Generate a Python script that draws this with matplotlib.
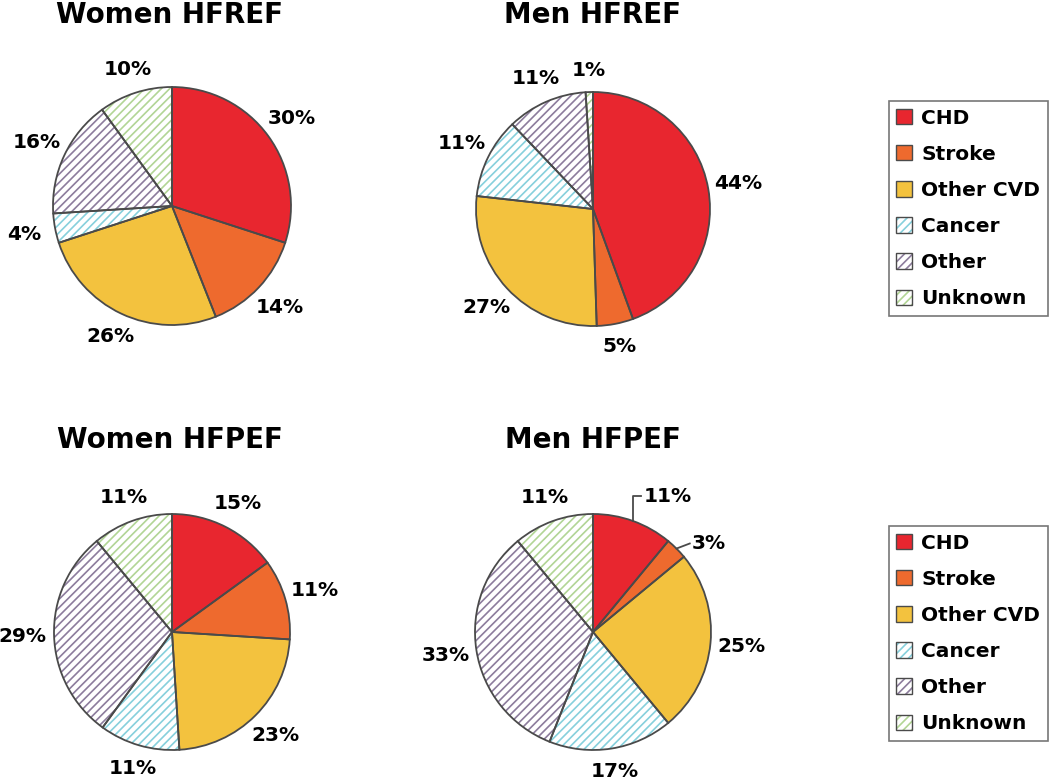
import matplotlib
matplotlib.use('Agg')
import matplotlib.pyplot as plt
from matplotlib.patches import Patch
import numpy as np

plt.rcParams['font.family'] = ['DejaVu Sans']
plt.rcParams['hatch.linewidth'] = 1.2

causes = ['CHD', 'Stroke', 'Other CVD', 'Cancer', 'Other', 'Unknown']
women_hfref = [30, 14, 26, 4, 16, 10]
men_hfref = [44, 5, 27, 11, 11, 1]
women_hfpef = [15, 11, 23, 11, 29, 11]
men_hfpef = [11, 3, 25, 17, 33, 11]

fills = ['#E8262F', '#EE6A2E', '#F3C23E', 'white', 'white', 'white']
hatch_cols = [None, None, None, '#86D0DC', '#8C7C9C', '#B2D595']
edge = '#4A4A4A'

W, H = 1050, 780
fig = plt.figure(figsize=(W / 100, H / 100), dpi=100)


def pie_axes(cx, cy, r):
    # square axes in pixel terms, radius 1 -> r px
    half = r * 1.3
    return fig.add_axes([(cx - half) / W, (H - cy - half) / H, 2 * half / W, 2 * half / H])


def draw_pie(ax, values, leaders=None):
    leaders = leaders or {}
    wedges, _ = ax.pie(values, colors=fills, startangle=90, counterclock=False,
                       wedgeprops=dict(linewidth=0))
    for w, hc in zip(wedges, hatch_cols):
        if hc:
            w.set_edgecolor(hc)
            w.set_hatch('////')
    ax.pie(values, startangle=90, counterclock=False,
           wedgeprops=dict(fill=False, edgecolor=edge, linewidth=1.3))
    ax.set_xlim(-1.3, 1.3)
    ax.set_ylim(-1.3, 1.3)
    ax.set_aspect('equal')
    ax.axis('off')
    for i, w in enumerate(wedges):
        ang = np.deg2rad((w.theta1 + w.theta2) / 2)
        txt = '%d%%' % values[i]
        if i in leaders:
            tx, ty, elbow = leaders[i]
            ex, ey = np.cos(ang), np.sin(ang)
            if elbow:
                xs, ys = [ex, ex, tx - 0.02], [ey, ty, ty]
            else:
                xs, ys = [ex, tx - 0.02], [ey, ty]
            ax.plot(xs, ys, color=edge, lw=1.3, clip_on=False)
            ax.text(tx, ty, txt, ha='left', va='center', fontsize=14.5, fontweight='bold')
        else:
            # wide labels need a bit more room at the sides than above/below
            d = 1.18 + 0.085 * abs(np.cos(ang))
            ax.text(d * np.cos(ang), d * np.sin(ang), txt, ha='center', va='center',
                    fontsize=14.5, fontweight='bold')


draw_pie(pie_axes(172, 206, 119), women_hfref)
draw_pie(pie_axes(593, 209, 117), men_hfref)
draw_pie(pie_axes(172, 632, 118), women_hfpef)
draw_pie(pie_axes(593, 632, 118), men_hfpef,
         leaders={0: (0.43, 1.15, True), 1: (0.84, 0.75, False)})

title_kw = dict(ha='center', va='center', fontsize=20, fontweight='bold')
fig.text(170 / W, 1 - 15 / H, 'Women HFREF', **title_kw)
fig.text(593 / W, 1 - 15 / H, 'Men HFREF', **title_kw)
fig.text(170 / W, 1 - 440 / H, 'Women HFPEF', **title_kw)
fig.text(593 / W, 1 - 440 / H, 'Men HFPEF', **title_kw)

handles = []
for f, hc in zip(fills, hatch_cols):
    if hc:
        handles.append((Patch(facecolor='white', edgecolor=hc, hatch='////', linewidth=0),
                        Patch(fill=False, edgecolor=edge, linewidth=1.0)))
    else:
        handles.append(Patch(facecolor=f, edgecolor=edge, linewidth=1.0))

for top in (101, 526):
    leg = fig.legend(handles, causes, loc='upper right',
                     bbox_to_anchor=(1048 / W, 1 - top / H),
                     prop=dict(size=14.5, weight='bold'), frameon=True, fancybox=False,
                     edgecolor='#555555', labelspacing=0.85, handlelength=0.8,
                     handleheight=0.8, handletextpad=0.45, borderpad=0.38,
                     borderaxespad=0)
    leg.get_frame().set_linewidth(1.2)

fig.savefig('out.png', dpi=100)
